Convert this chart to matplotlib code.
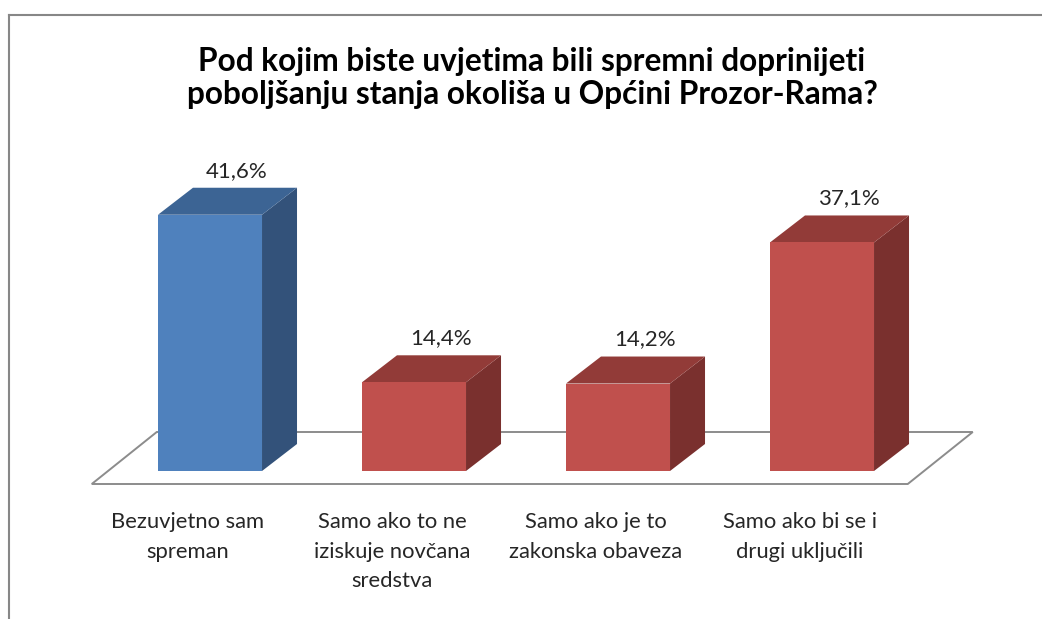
import numpy as np
import matplotlib
matplotlib.use("Agg")
import matplotlib.pyplot as plt
from matplotlib.patches import Polygon
from matplotlib.lines import Line2D

# ─── Podaci ───────────────────────────────────────────────────────────────────
categories = [
    "Bezuvjetno sam\nspreman",
    "Samo ako to ne\niziskuje novčana\nsredstva",
    "Samo ako je to\nzakonska obaveza",
    "Samo ako bi se i\ndrugi uključili",
]
values = [41.6, 14.4, 14.2, 37.1]
title = "Pod kojim biste uvjetima bili spremni doprinijeti\npoboljšanju stanja okoliša u Općini Prozor-Rama?"

# ─── Stil ─────────────────────────────────────────────────────────────────────
plt.rcParams['font.family'] = ['Lato', 'DejaVu Sans']
BLUE = ('#4F81BD', '#3C6494', '#33527A')   # front, top, side
RED = ('#C0504D', '#923B38', '#7A302E')
bar_colors = [BLUE, RED, RED, RED]

W, H, DPI = 1042, 619, 100
PT = 72 / DPI                          # px -> pt
BAR_W = 0.51
BAR_DEPTH = np.array([35.0, 27.0])     # px, dubina stupca
FLOOR_DEPTH = np.array([65.0, 52.0])   # px, dubina poda
FLOOR_FRONT = 0.25                     # udio dubine poda ispred stupaca

fig = plt.figure(figsize=(W / DPI, H / DPI), dpi=DPI)
ax = fig.add_axes([108 / W, (H - 471) / H, 816 / W, 308 / H])
ax.set_xlim(-0.5, len(values) - 0.5)
ax.set_ylim(0, 50)
ax.axis('off')


def shift(pts, off_px):
    """Pomakni točke (data) za pomak u pikselima."""
    disp = ax.transData.transform(pts) + off_px
    return ax.transData.inverted().transform(disp)


# ─── Pod ──────────────────────────────────────────────────────────────────────
x0, x1 = ax.get_xlim()
base = np.array([[x0, 0], [x1, 0]])
front = shift(base, -FLOOR_DEPTH * FLOOR_FRONT)
back = shift(front, FLOOR_DEPTH)
floor = Polygon([front[0], front[1], back[1], back[0]], closed=True,
                facecolor='white', edgecolor='#8C8C8C', lw=1.4, zorder=1,
                clip_on=False)
ax.add_patch(floor)

# ─── Stupci ───────────────────────────────────────────────────────────────────
for i, (v, cols) in enumerate(zip(values, bar_colors)):
    l, r = i - BAR_W / 2, i + BAR_W / 2
    fl = np.array([[l, 0], [r, 0], [r, v], [l, v]])
    bk = shift(fl, BAR_DEPTH)
    side = Polygon([fl[1], bk[1], bk[2], fl[2]], closed=True,
                   facecolor=cols[2], edgecolor='none', zorder=2)
    top = Polygon([fl[3], fl[2], bk[2], bk[3]], closed=True,
                  facecolor=cols[1], edgecolor='none', zorder=2)
    face = Polygon(fl, closed=True, facecolor=cols[0], edgecolor='none', zorder=3)
    for p in (side, top, face):
        p.set_clip_on(False)
        ax.add_patch(p)
    ax.annotate(f"{v:.1f}".replace('.', ',') + '%', xy=(i, v),
                xytext=(27 * PT, 44 * PT), textcoords='offset points',
                ha='center', va='center', fontsize=16, color='#262626')
    ax.annotate(categories[i], xy=(i, 0),
                xytext=(-22 * PT, -41 * PT), textcoords='offset points',
                ha='center', va='top', fontsize=15.8, color='#262626',
                linespacing=1.6)

# ─── Naslov i okvir ───────────────────────────────────────────────────────────
fig.text(532 / W, 1 - 78 / H, title, ha='center', va='center',
         fontsize=22.8, fontweight='bold', color='black', linespacing=1.18)
fig.add_artist(Line2D([9 / W, 1], [1 - 15 / H, 1 - 15 / H], color='#878787', lw=1.5))
fig.add_artist(Line2D([9 / W, 9 / W], [0, 1 - 15 / H], color='#878787', lw=1.5))

fig.savefig('out.png', dpi=DPI)
